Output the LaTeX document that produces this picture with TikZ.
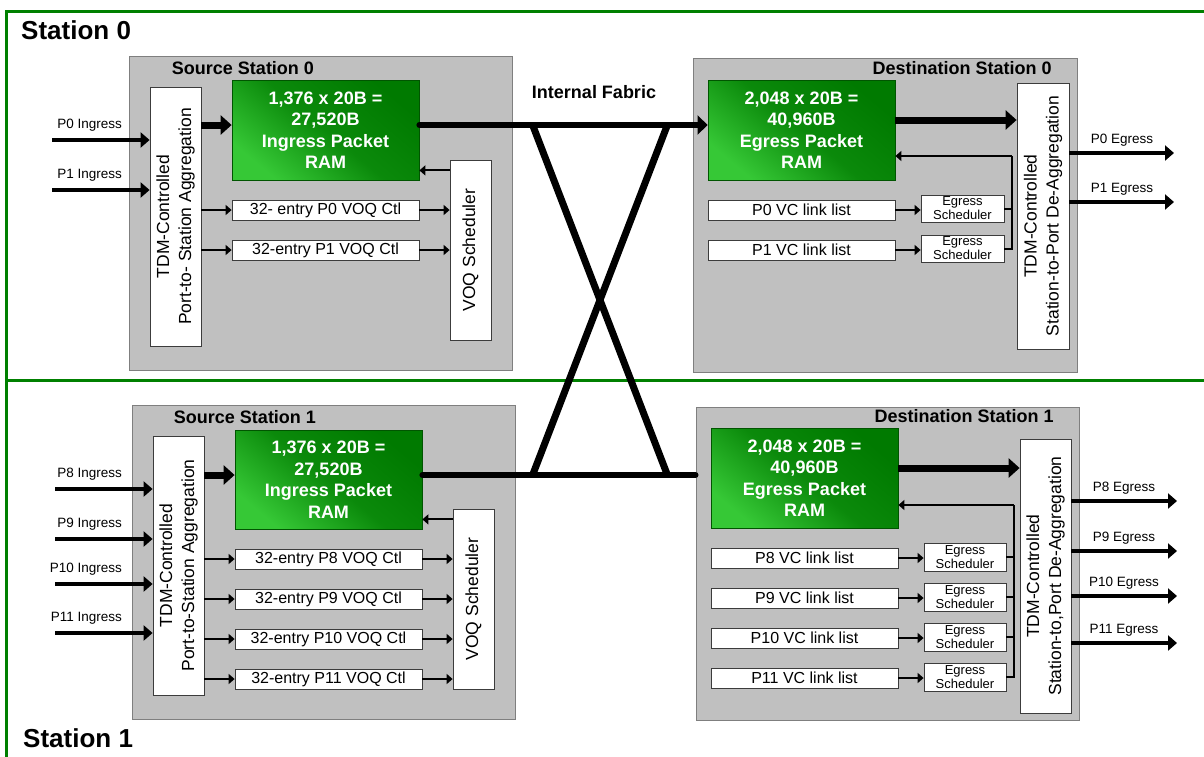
\documentclass[tikz,border=0pt]{standalone}
\usepackage{fontspec}
\setmainfont{Liberation Sans}
\usetikzlibrary{arrows.meta, positioning, calc}
\definecolor{framegreen}{HTML}{008000}
\definecolor{panelgray}{HTML}{C0C0C0}
\definecolor{paneledge}{HTML}{7F7F7F}
\definecolor{ramdark}{HTML}{007A00}
\definecolor{ramlight}{HTML}{36C836}
\definecolor{boxedge}{HTML}{3C3C3C}
\tikzset{
  panelbox/.style={draw=paneledge, fill=panelgray, line width=1pt, inner sep=0pt},
  whitebox/.style={draw=boxedge, fill=white, line width=0.8pt, inner sep=0pt, align=center},
  tdmbox/.style={whitebox, rotate=90, font=\fontsize{17.5}{22}\selectfont},
  listbox/.style={whitebox, minimum width=187pt, minimum height=20pt, font=\fontsize{16}{18}\selectfont},
  schedbox/.style={whitebox, minimum width=83pt, minimum height=27pt, font=\fontsize{13}{14}\selectfont},
  rambox/.style={draw=ramdark!70!black, line width=0.8pt, top color=ramdark, bottom color=ramlight,
    middle color=ramdark!80!ramlight, shading angle=-40, minimum width=187pt, minimum height=100pt,
    inner sep=0pt, align=center, text=white, font=\fontsize{18}{21.5}\selectfont\bfseries},
  paneltitle/.style={anchor=base, inner sep=0pt, font=\fontsize{18}{21}\selectfont\bfseries},
  stationtitle/.style={anchor=base west, inner sep=0pt, font=\fontsize{26}{30}\selectfont\bfseries},
  portlabel/.style={inner sep=0pt, font=\fontsize{13.5}{15}\selectfont},
  portarrow/.style={line width=4.5pt, -{Triangle[length=9pt, width=15pt]}},
  busarrow/.style={line width=7pt, -{Triangle[length=11pt, width=19pt]}},
  ctlarrow/.style={line width=2pt, -{Triangle[length=6pt, width=10pt]}},
  ctlline/.style={line width=2pt},
  fabricline/.style={line width=6pt, line cap=round},
  fabriccross/.style={line width=7pt},
  frameline/.style={draw=framegreen, line width=3pt}
}

\begin{document}
\begin{tikzpicture}[x=1pt, y=-1pt]
  \useasboundingbox (0,0) rectangle (1204,756);
  \clip (0,0) rectangle (1204,756);

  % station frames
  \draw[frameline] (6,11) rectangle (1214,380);
  \draw[frameline] (6,380) rectangle (1214,766);
  \node[stationtitle] (st0) at (21,39) {Station 0};
  \node[stationtitle] (st1) at (23,747) {Station 1};

  % grey panels
  \node[panelbox, minimum width=383pt, minimum height=314pt] (src0) at (320.5,213) {};
  \node[panelbox, minimum width=384pt, minimum height=314pt] (dst0) at (885,215) {};
  \node[panelbox, minimum width=383pt, minimum height=314pt] (src1) at (323.5,562) {};
  \node[panelbox, minimum width=383pt, minimum height=313pt] (dst1) at (887.5,563.5) {};
  \node[paneltitle] (src0t) at (243,74) {Source Station 0};
  \node[paneltitle] (dst0t) at (962,74) {Destination Station 0};
  \node[paneltitle] (src1t) at (245,423) {Source Station 1};
  \node[paneltitle] (dst1t) at (964,422) {Destination Station 1};

  % source station 0
  \node[tdmbox, minimum width=259pt, minimum height=51pt] (stdm0) at (175.5,216.5) {TDM-Controlled\\Port-to- Station Aggregation};
  \node[rambox] (sram0) at (325.5,130) {1,376 x 20B =\\27,520B\\Ingress Packet\\RAM};
  \node[tdmbox, minimum width=180pt, minimum height=41pt] (ssch0) at (470.5,250) {VOQ Scheduler};
  \foreach \p/\y/\t in {0/210/32- entry P0 VOQ Ctl, 1/250/32-entry P1 VOQ Ctl} {
    \node[listbox] (svq0\p) at (325.5,\y) {\t};
    \draw[ctlarrow] (stdm0.south |- svq0\p) -- (svq0\p.west);
    \draw[ctlarrow] (svq0\p.east) -- (ssch0.north |- svq0\p);
  }
  \foreach \p/\y in {0/140, 1/190} {
    \coordinate (in\p) at (52,\y);
    \draw[portarrow] (in\p) -- (in\p -| stdm0.north);
    \node[portlabel, anchor=base east] (inl\p) at (122,\y-12) {P\p\ Ingress};
  }
  \coordinate (ftop) at (600,125);
  \draw[busarrow] (stdm0.south |- ftop) -- (sram0.west |- ftop);
  \coordinate (sfb0) at ($(sram0.south east)+(0,-10)$);
  \draw[ctlarrow] (ssch0.north |- sfb0) -- (sfb0);

  % destination station 0
  \node[rambox] (dram0) at (801.5,130) {2,048 x 20B =\\40,960B\\Egress Packet\\RAM};
  \node[tdmbox, minimum width=266pt, minimum height=52pt] (dtdm0) at (1043,216) {TDM-Controlled\\Station-to-Port De-Aggregation};
  \coordinate (fb0) at (1012,156);
  \foreach \p/\y in {0/210, 1/250} {
    \node[listbox] (dvc0\p) at (801.5,\y) {P\p\ VC link list};
    \node[schedbox] (des0\p) at (962.5,\y-1.5) {Egress\\Scheduler};
    \draw[ctlarrow] (dvc0\p.east) -- (des0\p.west |- dvc0\p);
    \draw[ctlline] (des0\p.east) -| (fb0);
  }
  \draw[ctlarrow] (fb0) -- (fb0 -| dram0.east);
  \coordinate (dta0) at ($(dram0.east)+(0,-10)$);
  \draw[busarrow] (dta0) -- (dta0 -| dtdm0.north);
  \foreach \p/\y in {0/153, 1/202} {
    \coordinate (out\p) at (1174,\y);
    \draw[portarrow] (out\p -| dtdm0.south) -- (out\p);
    \node[portlabel, anchor=base] (outl\p) at (1122,\y-10) {P\p\ Egress};
  }

  % source station 1
  \node[tdmbox, minimum width=259pt, minimum height=51pt] (stdm1) at (178.5,565.5) {TDM-Controlled\\Port-to-Station Aggregation};
  \node[rambox, minimum height=99pt] (sram1) at (328.5,479.5) {1,376 x 20B =\\27,520B\\Ingress Packet\\RAM};
  \node[tdmbox, minimum width=180pt, minimum height=41pt] (ssch1) at (473.5,599) {VOQ Scheduler};
  \foreach \p/\y in {8/559, 9/599, 10/639, 11/679} {
    \node[listbox] (svq1\p) at (328.5,\y) {32-entry P\p\ VOQ Ctl};
    \draw[ctlarrow] (stdm1.south |- svq1\p) -- (svq1\p.west);
    \draw[ctlarrow] (svq1\p.east) -- (ssch1.north |- svq1\p);
  }
  \foreach \p/\y in {8/489, 9/539, 10/584, 11/633} {
    \coordinate (in\p) at (55,\y);
    \draw[portarrow] (in\p) -- (in\p -| stdm1.north);
    \node[portlabel, anchor=base east] (inl\p) at (122,\y-12) {P\p\ Ingress};
  }
  \coordinate (fbot) at (600,475);
  \draw[busarrow] (stdm1.south |- fbot) -- (sram1.west |- fbot);
  \coordinate (sfb1) at ($(sram1.south east)+(0,-10)$);
  \draw[ctlarrow] (ssch1.north |- sfb1) -- (sfb1);

  % destination station 1
  \node[rambox] (dram1) at (804.5,478) {2,048 x 20B =\\40,960B\\Egress Packet\\RAM};
  \node[tdmbox, minimum width=274pt, minimum height=51pt] (dtdm1) at (1045.5,576) {TDM-Controlled\\Station-to,Port De-Aggregation};
  \coordinate (fb1) at (1014,505);
  \foreach \p/\y in {8/558, 9/598, 10/638, 11/678} {
    \node[listbox] (dvc1\p) at (804.5,\y) {P\p\ VC link list};
    \node[schedbox, minimum width=82pt, minimum height=28pt] (des1\p) at (965,\y-1) {Egress\\Scheduler};
    \draw[ctlarrow] (dvc1\p.east) -- (des1\p.west |- dvc1\p);
    \draw[ctlline] (des1\p.east) -| (fb1);
  }
  \draw[ctlarrow] (fb1) -- (fb1 -| dram1.east);
  \coordinate (dta1) at ($(dram1.east)+(0,-10)$);
  \draw[busarrow] (dta1) -- (dta1 -| dtdm1.north);
  \foreach \p/\y in {8/501, 9/551, 10/596, 11/643} {
    \coordinate (out\p) at (1177,\y);
    \draw[portarrow] (out\p -| dtdm1.south) -- (out\p);
    \node[portlabel, anchor=base] (outl\p) at (1124,\y-10) {P\p\ Egress};
  }

  % internal fabric
  \node[paneltitle] (fab) at (594,98.5) {Internal Fabric};
  \draw[fabricline, -{Triangle[length=10pt, width=19pt]}] (sram0.east |- ftop) -- (dram0.west |- ftop);
  \draw[fabricline] (sram1.east |- fbot) -- (dst1.west |- fbot);
  \coordinate (xa) at (533,126);
  \coordinate (xb) at (667,126);
  \coordinate (xc) at (533,474);
  \coordinate (xd) at (667,474);
  \draw[fabriccross] (xa) -- (xd) (xb) -- (xc);
\end{tikzpicture}
\end{document}
